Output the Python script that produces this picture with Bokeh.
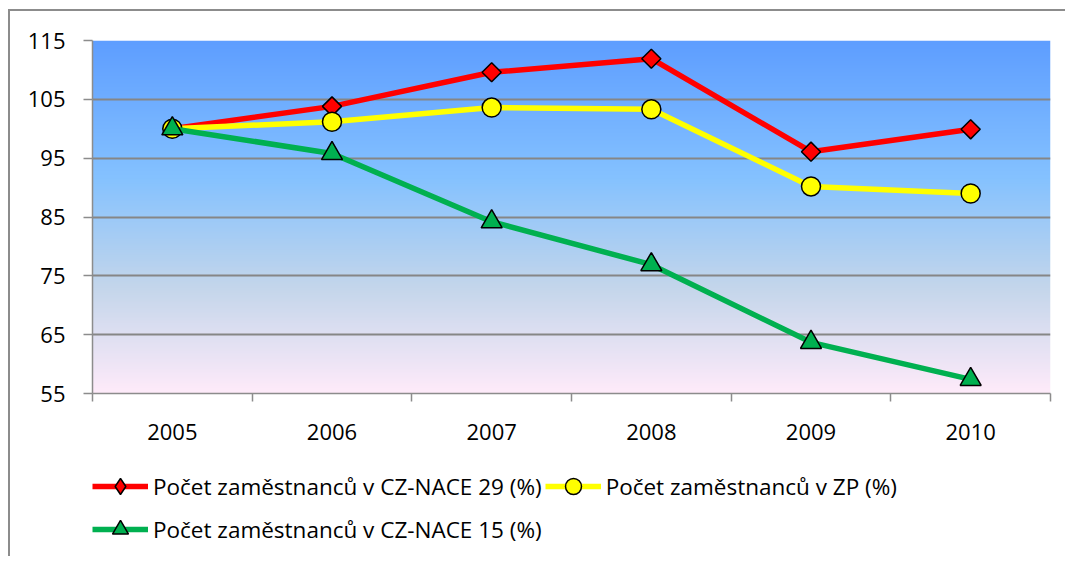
import numpy as np
from bokeh.plotting import figure
from bokeh.layouts import column
from bokeh.models import FixedTicker, Legend, LegendItem, Range1d
from bokeh.embed import file_html
from bokeh.resources import INLINE

years = ["2005", "2006", "2007", "2008", "2009", "2010"]
nace29 = [100.0, 103.8, 109.6, 111.9, 96.1, 99.9]
zp = [100.0, 101.2, 103.6, 103.3, 90.2, 89.0]
nace15 = [100.0, 95.8, 84.2, 76.9, 63.7, 57.4]
y_ticks = [55, 65, 75, 85, 95, 105, 115]

labels = ["Počet zaměstnanců v CZ-NACE 29 (%)",
          "Počet zaměstnanců v ZP (%)",
          "Počet zaměstnanců v CZ-NACE 15 (%)"]

xs = list(range(len(years)))
FONT = "Open Sans"
RED, YEL, GRN = "#ff0000", "#ffff00", "#00b050"
lw = 5.5

p = figure(width=1055, height=445, output_backend="svg", toolbar_location=None,
           x_range=Range1d(-0.5, len(years) - 0.5), y_range=Range1d(55, 115),
           min_border_left=82, min_border_right=15, min_border_top=29, min_border_bottom=63)
p.outline_line_color = None
p.background_fill_color = "white"
p.border_fill_color = "white"

# gradient plot-area background
stops_t = [0.0, 0.39, 0.70, 1.0]
stops_c = np.array([[94, 158, 255], [133, 194, 255], [196, 214, 235], [255, 235, 250]], dtype=float)
H = 360
t = np.linspace(1.0, 0.0, H)  # row 0 at bottom
img = np.empty((H, 2), dtype=np.uint32)
view = img.view(dtype=np.uint8).reshape((H, 2, 4))
for ch in range(3):
    col = np.interp(t, stops_t, stops_c[:, ch])
    view[:, :, ch] = col[:, None].astype(np.uint8)
view[:, :, 3] = 255
p.image_rgba(image=[img], x=-0.5, y=55, dw=len(years), dh=60, level="image")

# axes
p.xaxis.ticker = FixedTicker(ticks=xs, minor_ticks=[i - 0.5 for i in range(len(years) + 1)])
p.xaxis.major_label_overrides = {i: y for i, y in enumerate(years)}
p.xaxis.major_tick_out = 0
p.xaxis.major_tick_in = 0
p.xaxis.minor_tick_out = 8
p.xaxis.minor_tick_in = 0
p.xaxis.minor_tick_line_color = "#8c8c8c"
p.xaxis.minor_tick_line_width = 1.5
p.xaxis.major_label_standoff = 22

p.yaxis.ticker = FixedTicker(ticks=y_ticks)
p.yaxis.major_tick_out = 9
p.yaxis.major_tick_in = 0
p.yaxis.minor_tick_line_color = None
p.yaxis.major_tick_line_color = "#8c8c8c"
p.yaxis.major_tick_line_width = 1.5
p.yaxis.major_label_standoff = 18

for ax in (p.xaxis, p.yaxis):
    ax.axis_line_color = "#8c8c8c"
    ax.axis_line_width = 1.5
    ax.major_label_text_font = FONT
    ax.major_label_text_font_size = "22px"
    ax.major_label_text_color = "black"

p.xgrid.grid_line_color = None
p.ygrid.grid_line_color = "#868686"
p.ygrid.grid_line_width = 2
p.ygrid.level = "underlay"
p.ygrid.ticker = FixedTicker(ticks=y_ticks)

# series
p.line(xs, nace29, line_color=RED, line_width=lw)
p.scatter(xs, nace29, marker="square", angle=np.pi / 4, size=13.5,
          fill_color=RED, line_color="black", line_width=1.5)
p.line(xs, zp, line_color=YEL, line_width=lw)
p.scatter(xs, zp, marker="circle", size=19,
          fill_color=YEL, line_color="black", line_width=1.5)
p.line(xs, nace15, line_color=GRN, line_width=lw)
p.scatter(xs, nace15, marker="triangle", size=21,
          fill_color=GRN, line_color="black", line_width=1.5)

# legend strip (separate panel below the chart); its own copies of the series
# lie outside its visible range, so only the legend shows
q = figure(width=1055, height=100, output_backend="svg", toolbar_location=None,
           x_range=Range1d(-20, -19), y_range=Range1d(0, 1),
           x_axis_location=None, y_axis_location=None,
           min_border_left=62, min_border_right=0, min_border_top=10, min_border_bottom=0)
q.outline_line_color = None
q.xgrid.visible = False
q.ygrid.visible = False
q.background_fill_color = "white"
q.border_fill_color = "white"

k1 = q.line(xs, nace29, line_color=RED, line_width=lw)
s1 = q.scatter(xs, nace29, marker="diamond", size=19, fill_color=RED, line_color="black", line_width=1.5)
k2 = q.line(xs, zp, line_color=YEL, line_width=lw)
s2 = q.scatter(xs, zp, marker="circle", size=19, fill_color=YEL, line_color="black", line_width=1.5)
k3 = q.line(xs, nace15, line_color=GRN, line_width=lw)
s3 = q.scatter(xs, nace15, marker="triangle", size=19, fill_color=GRN, line_color="black", line_width=1.5)

legend = Legend(items=[LegendItem(label=labels[0], renderers=[k1, s1]),
                       LegendItem(label=labels[1], renderers=[k2, s2]),
                       LegendItem(label=labels[2], renderers=[k3, s3])],
                location="top_left", orientation="horizontal", ncols=2)
legend.glyph_width = 56
legend.glyph_height = 40
legend.spacing = 3
legend.padding = 0
legend.margin = 0
legend.label_standoff = 5
legend.label_text_font = FONT
legend.label_text_font_size = "22.5px"
legend.label_text_color = "black"
legend.border_line_color = None
legend.background_fill_alpha = 0
q.add_layout(legend, "center")

layout = column(p, q, spacing=0)
layout.styles = {"border-left": "2px solid #8c8c8c", "border-top": "2px solid #8c8c8c",
                 "margin-left": "8px", "margin-top": "9px"}

open("out.html", "w").write(file_html(layout, INLINE))
